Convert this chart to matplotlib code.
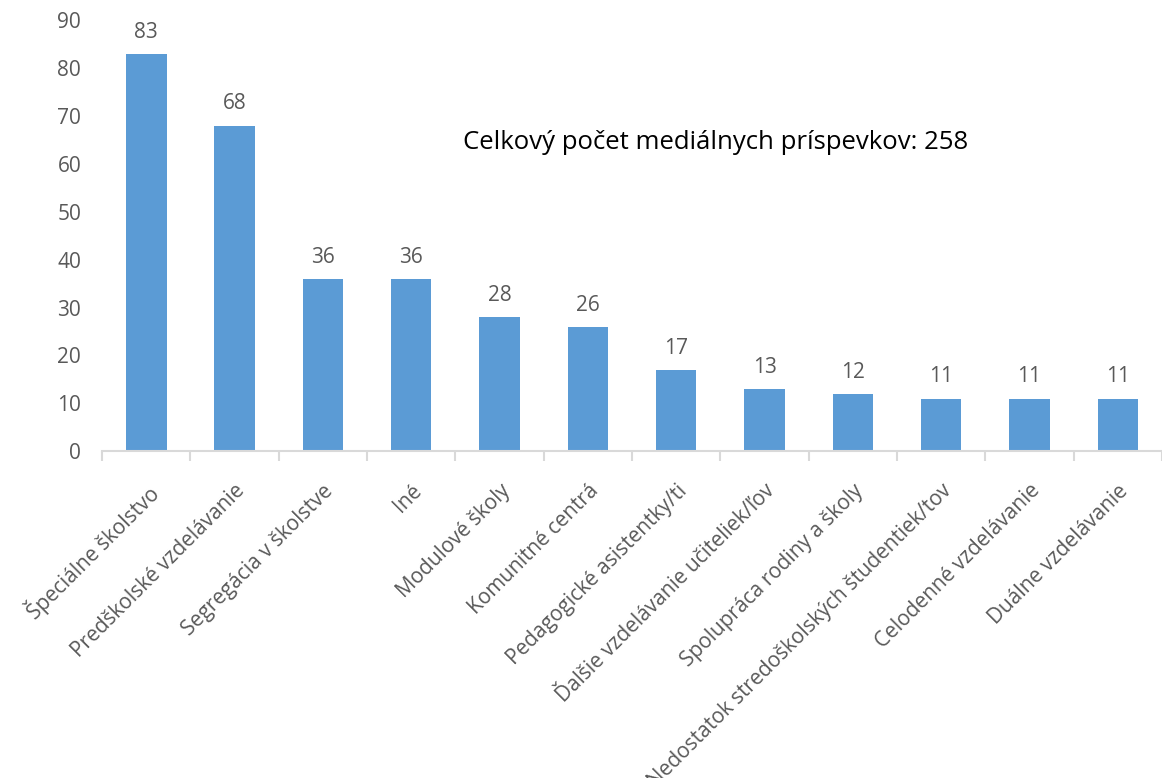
import numpy as np
import matplotlib
matplotlib.use("Agg")
import matplotlib.pyplot as plt

# Data
categories = [
    "Špeciálne školstvo",
    "Predškolské vzdelávanie",
    "Segregácia v školstve",
    "Iné",
    "Modulové školy",
    "Komunitné centrá",
    "Pedagogické asistentky/ti",
    "Ďalšie vzdelávanie učiteliek/ľov",
    "Spolupráca rodiny a školy",
    "Nedostatok stredoškolských študentiek/tov",
    "Celodenné vzdelávanie",
    "Duálne vzdelávanie",
]
counts = [83, 68, 36, 36, 28, 26, 17, 13, 12, 11, 11, 11]
y_ticks = list(range(0, 100, 10))
note_text = "Celkový počet mediálnych príspevkov: 258"

BAR_COLOR = "#5B9BD5"
TEXT_COLOR = "#595959"
AXIS_COLOR = "#D9D9D9"

plt.rcParams["font.family"] = ["Open Sans", "DejaVu Sans"]

fig = plt.figure(figsize=(11.62, 7.78), dpi=100)
ax = fig.add_axes([0.0878, 0.420, 0.9122, 0.554])

x = np.arange(len(categories))
ax.bar(x, counts, width=0.46, color=BAR_COLOR, zorder=2)

# value labels
for xi, v in zip(x, counts):
    ax.annotate(str(v), (xi, v), xytext=(0, 8), textcoords="offset points",
                ha="center", va="bottom", fontsize=15, color=TEXT_COLOR)

ax.set_xlim(-0.5, len(categories) - 0.5)
ax.set_ylim(0, 90)
ax.set_yticks(y_ticks)
ax.tick_params(axis="y", length=0, pad=15, labelsize=15, labelcolor=TEXT_COLOR)

# category labels at centers, tick marks at boundaries
ax.set_xticks(x)
ax.set_xticklabels(categories, rotation=45, ha="right", rotation_mode="anchor",
                   fontsize=15, color=TEXT_COLOR)
ax.tick_params(axis="x", which="major", length=0, pad=21)
ax.set_xticks(np.arange(-0.5, len(categories), 1.0), minor=True)
ax.tick_params(axis="x", which="minor", length=7, width=1.5, color=AXIS_COLOR, direction="out")

for side in ["left", "right", "top"]:
    ax.spines[side].set_visible(False)
ax.spines["bottom"].set_color(AXIS_COLOR)
ax.spines["bottom"].set_linewidth(1.5)

ax.text(6.45, 64.5, note_text, ha="center", va="center", fontsize=18.5, color="#000000")

fig.savefig("out.png", dpi=100)
